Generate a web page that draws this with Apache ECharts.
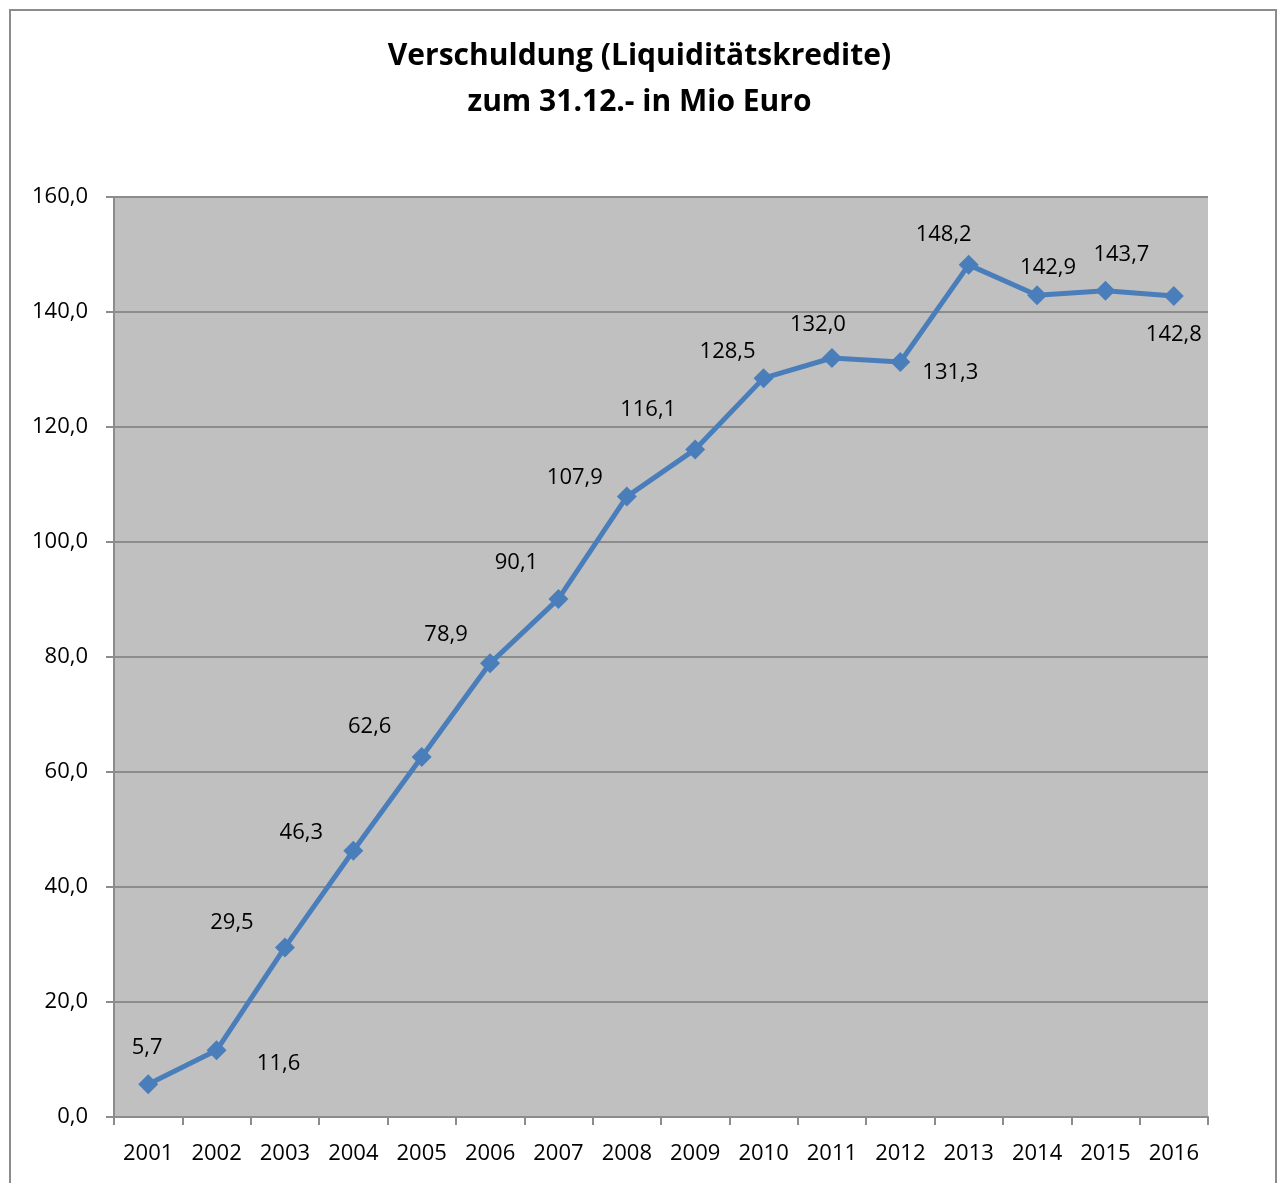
<!DOCTYPE html>
<html>
<head>
<meta charset="utf-8">
<script src="https://cdn.jsdelivr.net/npm/echarts@6/dist/echarts.min.js"></script>
<style>
  html, body { margin: 0; padding: 0; background: #fff; }
  #chart { width: 1279px; height: 1183px; }
</style>
</head>
<body>
<div id="chart"></div>
<script>
const years = ['2001', '2002', '2003', '2004', '2005', '2006', '2007', '2008',
  '2009', '2010', '2011', '2012', '2013', '2014', '2015', '2016']
const debt = [5.7, 11.6, 29.5, 46.3, 62.6, 78.9, 90.1, 107.9,
  116.1, 128.5, 132.0, 131.3, 148.2, 142.9, 143.7, 142.8]
const yTicks = { min: 0, max: 160, step: 20 }

// where each value label sits relative to its marker (as in the original)
const labelShift = [
  [-1, -36], [62, 13], [-53, -25], [-52, -18], [-52, -30], [-44, -29],
  [-42, -36], [-52, -19], [-47, -40], [-36, -26], [-14, -33], [50, 11],
  [-25, -30], [11, -28], [16, -36], [0, 39],
]

const fmt = (v) => v.toFixed(1).replace('.', ',')

const chart = echarts.init(document.getElementById('chart'))
const font = '"Open Sans", "Liberation Sans", sans-serif'

chart.setOption({
  animation: false,
  textStyle: { fontFamily: font },
  title: {
    text: 'Verschuldung (Liquiditätskredite)\nzum 31.12.- in Mio Euro',
    left: 'center',
    top: 28,
    textStyle: {
      fontFamily: font,
      fontSize: 30,
      fontWeight: 'bold',
      color: '#000',
      lineHeight: 46,
    },
  },
  graphic: [
    {
      type: 'rect',
      shape: { x: 10, y: 10, width: 1266, height: 1185 },
      style: { fill: 'none', stroke: '#8c8c8c', lineWidth: 2 },
      silent: true,
    },
  ],
  grid: {
    left: 114,
    top: 197,
    right: 71,
    bottom: 66,
    show: true,
    backgroundColor: '#c0c0c0',
    borderWidth: 0,
  },
  xAxis: {
    type: 'category',
    data: years,
    boundaryGap: true,
    axisLine: { show: true, lineStyle: { color: '#8c8c8c', width: 2 } },
    axisTick: { show: true, length: 8, interval: 0, lineStyle: { color: '#8c8c8c', width: 2 } },
    axisLabel: { color: '#000', fontSize: 22, margin: 26, interval: 0 },
  },
  yAxis: {
    type: 'value',
    min: yTicks.min,
    max: yTicks.max,
    interval: yTicks.step,
    axisLine: { show: true, lineStyle: { color: '#8c8c8c', width: 2 } },
    axisTick: { show: true, length: 8, lineStyle: { color: '#8c8c8c', width: 2 } },
    axisLabel: { color: '#000', fontSize: 22, margin: 26, formatter: fmt },
    splitLine: { show: true, lineStyle: { color: '#8c8c8c', width: 2 } },
  },
  series: [
    {
      type: 'line',
      data: debt.map((v, i) => ({
        value: v,
        label: { offset: labelShift[i] },
      })),
      symbol: 'diamond',
      symbolSize: 20,
      lineStyle: { color: '#4a7ebb', width: 5 },
      itemStyle: { color: '#4a7ebb' },
      label: {
        show: true,
        position: 'inside',
        color: '#000',
        fontSize: 22,
        formatter: (p) => fmt(p.value),
      },
    },
  ],
})
</script>
</body>
</html>
